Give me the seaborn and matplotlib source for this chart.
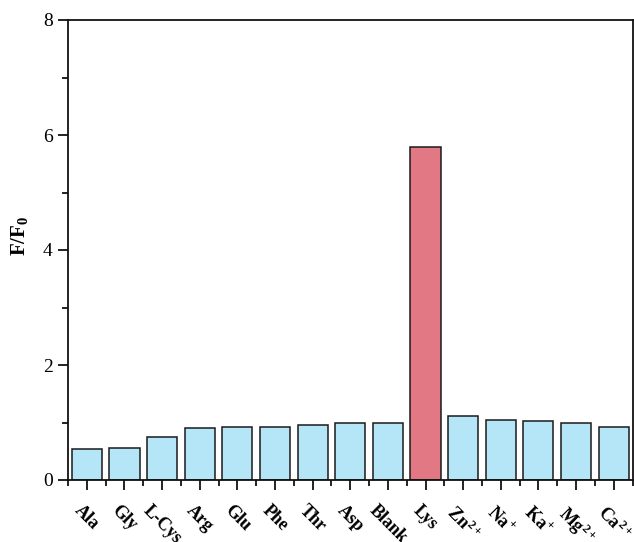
import matplotlib
matplotlib.use("Agg")
import matplotlib.pyplot as plt
import seaborn as sns
from matplotlib.ticker import MultipleLocator, FixedLocator

# Analytes tested and their relative fluorescence response
analytes = ["Ala", "Gly", "L-Cys", "Arg", "Glu", "Phe", "Thr", "Asp", "Blank",
            "Lys", "Zn$^{2+}$", "Na$^{+}$", "Ka$^{+}$", "Mg$^{2+}$", "Ca$^{2+}$"]
ratio = [0.54, 0.56, 0.75, 0.91, 0.93, 0.93, 0.96, 0.99, 1.00,
         5.80, 1.12, 1.04, 1.03, 1.00, 0.93]
highlight = "Lys"

base_color = "#B5E6F8"
hit_color = "#E27884"
palette = [hit_color if a == highlight else base_color for a in analytes]

sns.set_style("ticks")
plt.rcParams["font.family"] = ["Liberation Serif", "DejaVu Serif"]
plt.rcParams["mathtext.fontset"] = "custom"
plt.rcParams["mathtext.rm"] = "Liberation Serif"
plt.rcParams["mathtext.bf"] = "Liberation Serif:bold"
plt.rcParams["mathtext.it"] = "Liberation Serif:italic"
plt.rcParams["mathtext.default"] = "bf"
for key in ["text.color", "axes.labelcolor", "xtick.color", "ytick.color"]:
    plt.rcParams[key] = "black"

fig = plt.figure(figsize=(6.34, 5.42), dpi=100)
ax = fig.add_axes([68 / 634, 1 - 480 / 542, 1 - 68 / 634 - 1.5 / 634, 460 / 542])

sns.barplot(x=analytes, y=ratio, hue=analytes, palette=palette, legend=False,
            saturation=1, width=0.8, edgecolor="#1a1a1a", linewidth=1.1, ax=ax)

ax.set_xlim(-0.5, len(analytes) - 0.5)
ax.set_ylim(0, 8)
ax.yaxis.set_major_locator(MultipleLocator(2))
ax.yaxis.set_minor_locator(MultipleLocator(1))
ax.xaxis.set_minor_locator(FixedLocator([i + 0.5 for i in range(-1, len(analytes))]))

for side in ["top", "right", "left", "bottom"]:
    ax.spines[side].set_visible(True)
    ax.spines[side].set_linewidth(1.3)
    ax.spines[side].set_color("#111111")

ax.tick_params(axis="both", which="major", direction="out", length=7, width=1.3,
               color="#111111")
ax.tick_params(axis="both", which="minor", direction="out", length=4, width=1.3,
               color="#111111")
ax.tick_params(axis="y", labelsize=14, pad=4)
ax.tick_params(axis="x", labelsize=13, pad=9)

ax.set_xticks(range(len(analytes)))
ax.set_xticklabels(analytes, rotation=-45, ha="center", va="top", fontweight="bold")

ax.set_ylabel("F/F$_0$", fontsize=15, fontweight="bold")
ax.yaxis.set_label_coords(-0.068, 0.53)
ax.set_xlabel("")

fig.savefig("out.png", dpi=100)
